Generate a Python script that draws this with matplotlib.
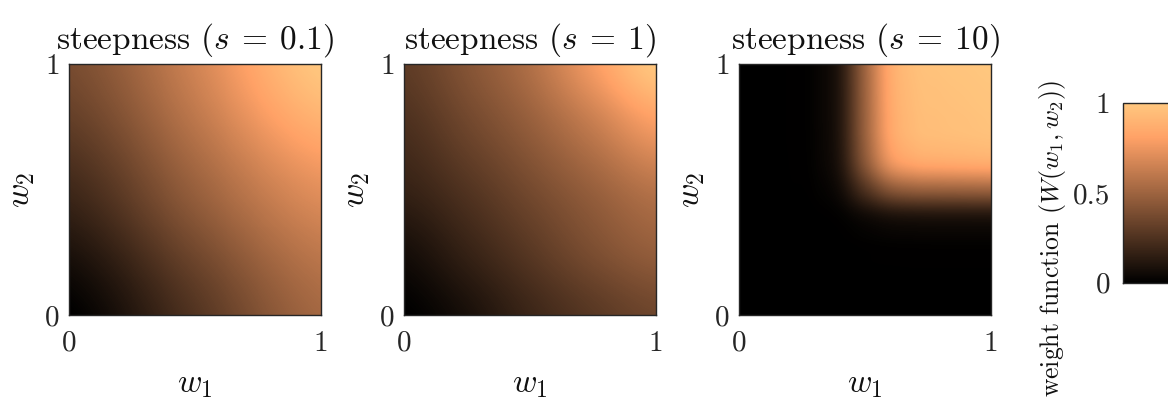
import numpy as np
import matplotlib
matplotlib.use("Agg")
import matplotlib.pyplot as plt

plt.rcParams['font.family'] = ['serif']
plt.rcParams['font.serif'] = ['cmr10']
plt.rcParams['mathtext.fontset'] = 'cm'
plt.rcParams['axes.formatter.use_mathtext'] = True

# ---- data (values of W(w1, w2); rows = w2 from 0 to 1, cols = w1 from 0 to 1)
steepness_labels = ["0.1", "1", "10"]

W_s01 = [
    [0.00, 0.26, 0.52],
    [0.20, 0.48, 0.72],
    [0.38, 0.66, 1.00],
]

W_s1 = [
    [0.00, 0.08, 0.19, 0.28, 0.35],
    [0.07, 0.17, 0.28, 0.39, 0.47],
    [0.17, 0.26, 0.37, 0.48, 0.58],
    [0.24, 0.35, 0.47, 0.62, 0.78],
    [0.30, 0.42, 0.56, 0.78, 1.00],
]

W_s10 = [
    [0, 0, 0,     0,     0,     0,     0,     0,     0,     0,     0],
    [0, 0, 0,     0,     0,     0,     0,     0,     0,     0,     0],
    [0, 0, 0,     0,     0.001, 0.003, 0.004, 0.005, 0.005, 0.005, 0.005],
    [0, 0, 0,     0,     0.002, 0.010, 0.017, 0.019, 0.020, 0.020, 0.020],
    [0, 0, 0.001, 0.002, 0.014, 0.060, 0.102, 0.115, 0.118, 0.119, 0.120],
    [0, 0, 0.003, 0.010, 0.060, 0.250, 0.425, 0.480, 0.490, 0.495, 0.500],
    [0, 0, 0.004, 0.017, 0.102, 0.425, 0.723, 0.816, 0.833, 0.842, 0.850],
    [0, 0, 0.005, 0.019, 0.115, 0.480, 0.816, 0.922, 0.941, 0.950, 0.960],
    [0, 0, 0.005, 0.020, 0.118, 0.490, 0.833, 0.941, 0.960, 0.970, 0.980],
    [0, 0, 0.005, 0.020, 0.119, 0.495, 0.842, 0.950, 0.970, 0.980, 0.990],
    [0, 0, 0.005, 0.020, 0.120, 0.500, 0.850, 0.960, 0.980, 0.990, 1.000],
]

grids = [W_s01, W_s1, W_s10]
axis_ticks = [0, 1]
cbar_ticks = [0, 0.5, 1]
cbar_ticklabels = ["0", "0.5", "1"]

# ---- figure
FW, FH = 1168, 398
fig = plt.figure(figsize=(FW / 100, FH / 100), dpi=100)

def px_axes(x0, y0, x1, y1):
    return fig.add_axes([x0 / FW, 1 - y1 / FH, (x1 - x0) / FW, (y1 - y0) / FH])

lefts = [69.3, 404.3, 739.3]
ax_w = 251.7
top, bottom = 64.3, 315.3
edge = '#262626'
txt = '#111111'

im = None
for left, grid, lab in zip(lefts, grids, steepness_labels):
    ax = px_axes(left, top, left + ax_w, bottom)
    Z = np.array(grid, dtype=float)
    n = Z.shape[0]
    h = 1.0 / (n - 1)
    im = ax.imshow(Z, origin='lower', cmap='copper', vmin=0, vmax=1,
                   extent=[-h / 2, 1 + h / 2, -h / 2, 1 + h / 2],
                   interpolation='catrom', interpolation_stage='data', aspect='auto')
    ax.set_xlim(0, 1)
    ax.set_ylim(0, 1)
    ax.set_xticks(axis_ticks)
    ax.set_yticks(axis_ticks)
    ax.set_xticklabels([str(t) for t in axis_ticks])
    ax.set_yticklabels([str(t) for t in axis_ticks])
    ax.tick_params(axis='both', direction='in', length=0, labelsize=21, colors=edge)
    ax.tick_params(axis='x', pad=11)
    ax.tick_params(axis='y', pad=7)
    for sp in ax.spines.values():
        sp.set_color(edge)
        sp.set_linewidth(1.0)
    ax.set_title(r"steepness ($s\:=\:" + lab + r"$)", fontsize=24, pad=11, color=txt)
    ax.set_xlabel(r"$w_1$", fontsize=24, labelpad=10, color=txt)
    ax.set_ylabel(r"$w_2$", fontsize=24, labelpad=6, color=txt)

# colorbar (partly cut off at the right edge)
cax = px_axes(1123, 103.3, 1200, 282.7)
cb = fig.colorbar(im, cax=cax, ticks=cbar_ticks)
cb.set_ticklabels(cbar_ticklabels)
cax.yaxis.set_ticks_position('left')
cax.tick_params(direction='in', length=0, labelsize=21, pad=9, colors=edge)
cb.outline.set_edgecolor(edge)
cb.outline.set_linewidth(1.0)
fig.text(1052 / FW, 1 - 239 / FH, r"weight function ($W(w_1, w_2)$)", rotation=90,
         ha='center', va='center', fontsize=18.5, color=txt)

fig.savefig("out.png", dpi=100)
